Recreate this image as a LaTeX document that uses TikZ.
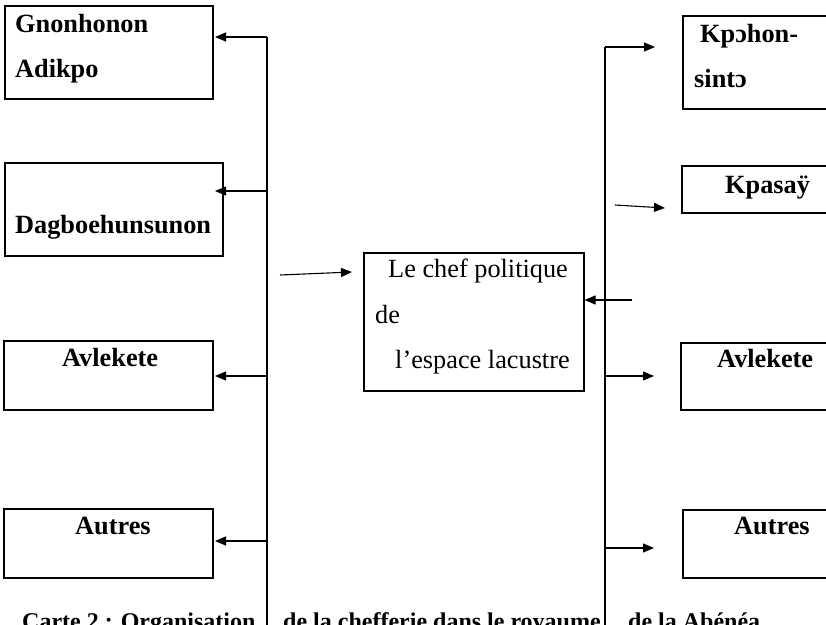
\documentclass[tikz,border=0pt]{standalone}
\usepackage{fontspec}
\setmainfont{Liberation Serif}
\usetikzlibrary{arrows.meta}
\begin{document}
\begin{tikzpicture}[x=1pt,y=-1pt,
  box/.style={draw,line width=1.1pt,inner sep=0pt,rectangle},
  lbl/.style={anchor=base west,inner sep=0pt,font=\fontsize{26.3}{30}\selectfont\bfseries},
  ctext/.style={anchor=base west,inner sep=0pt,font=\fontsize{26.3}{30}\selectfont},
  captxt/.style={anchor=base west,inner sep=0pt,font=\fontsize{24}{28}\selectfont\bfseries},
  trunk/.style={line width=1.1pt},
  arr/.style={line width=1.1pt,-{Triangle[length=11pt,width=9pt]}}]
\useasboundingbox (0,0) rectangle (826,624);
\clip (0,0) rectangle (826,624);
% left boxes
\draw[box] (5,6) rectangle (213,99);
\draw[box] (5,163) rectangle (223,256);
\draw[box] (4,341) rectangle (213,410);
\draw[box] (4,509) rectangle (213,578);
% right boxes (extend past the edge)
\draw[box] (683,16) rectangle (840,109);
\draw[box] (682,166) rectangle (840,213);
\draw[box] (681,343) rectangle (840,410);
\draw[box] (683,510) rectangle (840,578);
% centre box
\node[box,minimum width=220pt,minimum height=138pt] (c) at (474,322) {};
% labels
\node[lbl] (g1) at (15,32) {Gnonhonon};
\node[lbl] (g2) at (15,77) {Adikpo};
\node[lbl] (d1) at (15,233) {Dagboehunsunon};
\node[lbl] (a1) at (62,366) {Avlekete};
\node[lbl] (o1) at (75,534) {Autres};
\node[lbl] (k1) at (700,42) {Kpɔhon-};
\node[lbl] (k2) at (694,87) {sintɔ};
\node[lbl] (k3) at (725,193) {Kpasaÿ};
\node[lbl] (a2) at (717,367) {Avlekete};
\node[lbl] (o2) at (734,534) {Autres};
\node[ctext] (c1) at (388,277) {Le chef politique};
\node[ctext] (c2) at (375,323) {de};
\node[ctext] (c3) at (395,368) {l’espace lacustre};
% caption (clipped at the bottom edge, as in the reference)
\node[captxt] (p1) at (22,629) {Carte 2 : Organisation};
\node[captxt] (p2) at (283,629) {de la chefferie dans le royaume};
\node[captxt] (p3) at (628,629) {de la Abénéa};
% left trunk
\coordinate (lt0) at (267,37);
\coordinate (lt1) at (267,191);
\coordinate (lt2) at (267,376);
\coordinate (lt3) at (267,541);
\coordinate (lbot) at (267,630);
\draw[trunk] (lt0) -- (lbot);
\draw[arr] (lt0) -- (215,37);
\draw[arr] (lt1) -- (215,191);
\draw[arr] (lt2) -- (215,376);
\draw[arr] (lt3) -- (215,541);
% right trunk
\coordinate (rt0) at (605,47);
\coordinate (rt2) at (605,376);
\coordinate (rt3) at (605,548);
\coordinate (rbot) at (605,630);
\draw[trunk] (rt0) -- (rbot);
\draw[arr] (rt0) -- (655,47);
\draw[arr] (rt2) -- (654,376);
\draw[arr] (rt3) -- (654,548);
% free arrows
\coordinate (fa) at (615,205);
\draw[arr] (fa) -- (665,208);
\coordinate (fb) at (280,275);
\draw[arr] (fb) -- (352,272);
\coordinate (fc) at (632,300);
\draw[arr] (fc) -- (c.east |- fc);
\end{tikzpicture}
\end{document}
